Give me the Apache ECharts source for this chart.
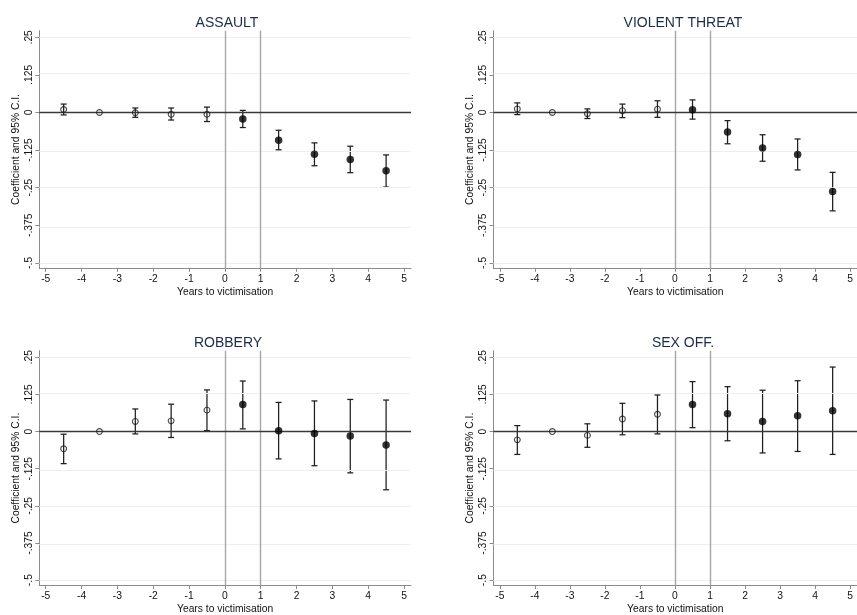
<!DOCTYPE html>
<html>
<head>
<meta charset="utf-8">
<script src="https://cdn.jsdelivr.net/npm/echarts@6/dist/echarts.min.js"></script>
<style>
html,body{margin:0;padding:0;background:#fff;}
#chart{width:857px;height:615px;}
</style>
</head>
<body>
<div id="chart"></div>
<script>
const years = [-4.5, -3.5, -2.5, -1.5, -0.5, 0.5, 1.5, 2.5, 3.5, 4.5];

const assaultCoef = [0.010, 0, -0.001, -0.006, -0.006, -0.022, -0.092, -0.139, -0.156, -0.194];
const assaultLo   = [-0.008, null, -0.016, -0.025, -0.030, -0.050, -0.124, -0.177, -0.200, -0.248];
const assaultHi   = [0.028, null, 0.015, 0.015, 0.018, 0.007, -0.059, -0.101, -0.112, -0.141];

const threatCoef = [0.012, 0, -0.004, 0.006, 0.011, 0.009, -0.065, -0.118, -0.140, -0.263];
const threatLo   = [-0.007, null, -0.020, -0.017, -0.016, -0.022, -0.104, -0.162, -0.191, -0.327];
const threatHi   = [0.032, null, 0.012, 0.028, 0.039, 0.042, -0.027, -0.074, -0.088, -0.199];

const robberyCoef = [-0.058, 0, 0.034, 0.036, 0.072, 0.091, 0.003, -0.007, -0.015, -0.045];
const robberyLo   = [-0.108, null, -0.008, -0.020, 0.003, 0.009, -0.092, -0.115, -0.139, -0.196];
const robberyHi   = [-0.009, null, 0.076, 0.092, 0.140, 0.170, 0.098, 0.103, 0.108, 0.106];

const sexCoef = [-0.028, 0, -0.013, 0.042, 0.058, 0.091, 0.060, 0.034, 0.053, 0.070];
const sexLo   = [-0.077, null, -0.053, -0.011, -0.008, 0.013, -0.031, -0.072, -0.067, -0.077];
const sexHi   = [0.020, null, 0.026, 0.095, 0.123, 0.168, 0.151, 0.139, 0.171, 0.217];

const panelTitles = ['ASSAULT', 'VIOLENT THREAT', 'ROBBERY', 'SEX OFF.'];
const xTicks = [-5, -4, -3, -2, -1, 0, 1, 2, 3, 4, 5];
const xTickLabels = ['-5', '-4', '-3', '-2', '-1', '0', '1', '2', '3', '4', '5'];
const yTicks = [-0.5, -0.375, -0.25, -0.125, 0, 0.125, 0.25];
const yTickLabels = ['-.5', '-.375', '-.25', '-.125', '0', '.125', '.25'];
const eventLines = [0, 1];
const xTitle = 'Years to victimisation';
const yTitle = 'Coefficient and 95% C.I.';

const panels = [
  {coef: assaultCoef, lo: assaultLo, hi: assaultHi},
  {coef: threatCoef, lo: threatLo, hi: threatHi},
  {coef: robberyCoef, lo: robberyLo, hi: robberyHi},
  {coef: sexCoef, lo: sexLo, hi: sexHi}
];

const FONT = 'Liberation Sans, Arial, Helvetica, sans-serif';
const gridPos = [
  {left: 39.3, top: 30.7},
  {left: 493.5, top: 30.7},
  {left: 39.3, top: 350.7},
  {left: 493.5, top: 350.7}
];
const GW = 371.7, GH = 237.6;
const titleX = [222, 678, 223, 678];

const grids = [], xAxes = [], yAxes = [], series = [], titles = [];

panels.forEach((p, i) => {
  grids.push({left: gridPos[i].left, top: gridPos[i].top, width: GW, height: GH, containLabel: false});
  titles.push({
    text: panelTitles[i], left: titleX[i], top: gridPos[i].top - 19.5, textAlign: 'center',
    textStyle: {fontFamily: FONT, fontSize: 14, fontWeight: 'normal', color: '#1c2b4b'}
  });
  xAxes.push({
    type: 'value', gridIndex: i, min: -5.18, max: 5.195,
    name: xTitle, nameLocation: 'middle', nameGap: 18.5,
    nameTextStyle: {fontFamily: FONT, fontSize: 10.3, color: '#111'},
    axisLine: {show: true, onZero: false, lineStyle: {color: '#8c8c8c', width: 1}},
    axisTick: {show: true, length: 3.5, customValues: xTicks, lineStyle: {color: '#8c8c8c'}},
    axisLabel: {
      customValues: xTicks, margin: 6, fontFamily: FONT, fontSize: 10.3, color: '#111',
      formatter: v => { const k = xTicks.findIndex(t => Math.abs(t - v) < 1e-6); return k >= 0 ? xTickLabels[k] : ''; }
    },
    splitLine: {show: false}
  });
  yAxes.push({
    type: 'value', gridIndex: i, min: -0.518, max: 0.272,
    name: yTitle, nameLocation: 'middle', nameGap: 18, nameRotate: 90,
    nameTextStyle: {fontFamily: FONT, fontSize: 10.3, color: '#111'},
    axisLine: {show: true, onZero: false, lineStyle: {color: '#8c8c8c', width: 1}},
    axisTick: {show: true, length: 4, customValues: yTicks, lineStyle: {color: '#8c8c8c'}},
    axisLabel: {
      customValues: yTicks, rotate: 90, margin: 5, fontFamily: FONT, fontSize: 10.3, color: '#111',
      formatter: v => { const k = yTicks.findIndex(t => Math.abs(t - v) < 1e-6); return k >= 0 ? yTickLabels[k] : ''; }
    },
    splitLine: {show: false}
  });

  // gridlines
  series.push({
    type: 'scatter', xAxisIndex: i, yAxisIndex: i, data: [], silent: true, z: 1,
    markLine: {
      silent: true, symbol: 'none', label: {show: false},
      lineStyle: {color: '#e8f0f2', width: 1, type: 'solid'},
      data: yTicks.filter(t => t !== 0).map(t => ({yAxis: t}))
    }
  });
  // event lines
  series.push({
    type: 'scatter', xAxisIndex: i, yAxisIndex: i, data: [], silent: true, z: 2,
    markLine: {
      silent: true, symbol: 'none', label: {show: false},
      lineStyle: {color: '#a6a6a6', width: 1.4, type: 'solid'},
      data: eventLines.map(t => ({xAxis: t}))
    }
  });
  // zero line
  series.push({
    type: 'scatter', xAxisIndex: i, yAxisIndex: i, data: [], silent: true, z: 3,
    markLine: {
      silent: true, symbol: 'none', label: {show: false},
      lineStyle: {color: '#3a3a3a', width: 1.3, type: 'solid'},
      data: [{yAxis: 0}]
    }
  });
  // error bars
  const ebData = [];
  years.forEach((y, k) => { if (p.lo[k] !== null) ebData.push([y, p.lo[k], p.hi[k]]); });
  series.push({
    type: 'custom', xAxisIndex: i, yAxisIndex: i, z: 4, silent: true,
    data: ebData, encode: {x: 0, y: [1, 2]},
    renderItem: (params, api) => {
      const x = api.value(0);
      const a = api.coord([x, api.value(1)]);
      const b = api.coord([x, api.value(2)]);
      const w = 3;
      const st = {stroke: '#1e1e1e', lineWidth: 1.25};
      return {type: 'group', children: [
        {type: 'line', shape: {x1: a[0], y1: a[1], x2: b[0], y2: b[1]}, style: st},
        {type: 'line', shape: {x1: a[0] - w, y1: a[1], x2: a[0] + w, y2: a[1]}, style: st},
        {type: 'line', shape: {x1: b[0] - w, y1: b[1], x2: b[0] + w, y2: b[1]}, style: st}
      ]};
    }
  });
  // pre-period: hollow
  series.push({
    type: 'scatter', xAxisIndex: i, yAxisIndex: i, z: 5, silent: true,
    symbol: 'circle', symbolSize: 5.8,
    itemStyle: {color: 'rgba(0,0,0,0)', borderColor: '#1e1e1e', borderWidth: 1.1},
    data: years.map((y, k) => [y, p.coef[k]]).filter(d => d[0] < 0)
  });
  // post-period: filled
  series.push({
    type: 'scatter', xAxisIndex: i, yAxisIndex: i, z: 5, silent: true,
    symbol: 'circle', symbolSize: 7.5,
    itemStyle: {color: '#000'},
    data: years.map((y, k) => [y, p.coef[k]]).filter(d => d[0] > 0)
  });
});

const chart = echarts.init(document.getElementById('chart'), null, {renderer: 'canvas'});
chart.setOption({
  animation: false,
  backgroundColor: '#ffffff',
  title: titles,
  grid: grids,
  xAxis: xAxes,
  yAxis: yAxes,
  series: series
});
</script>
</body>
</html>
